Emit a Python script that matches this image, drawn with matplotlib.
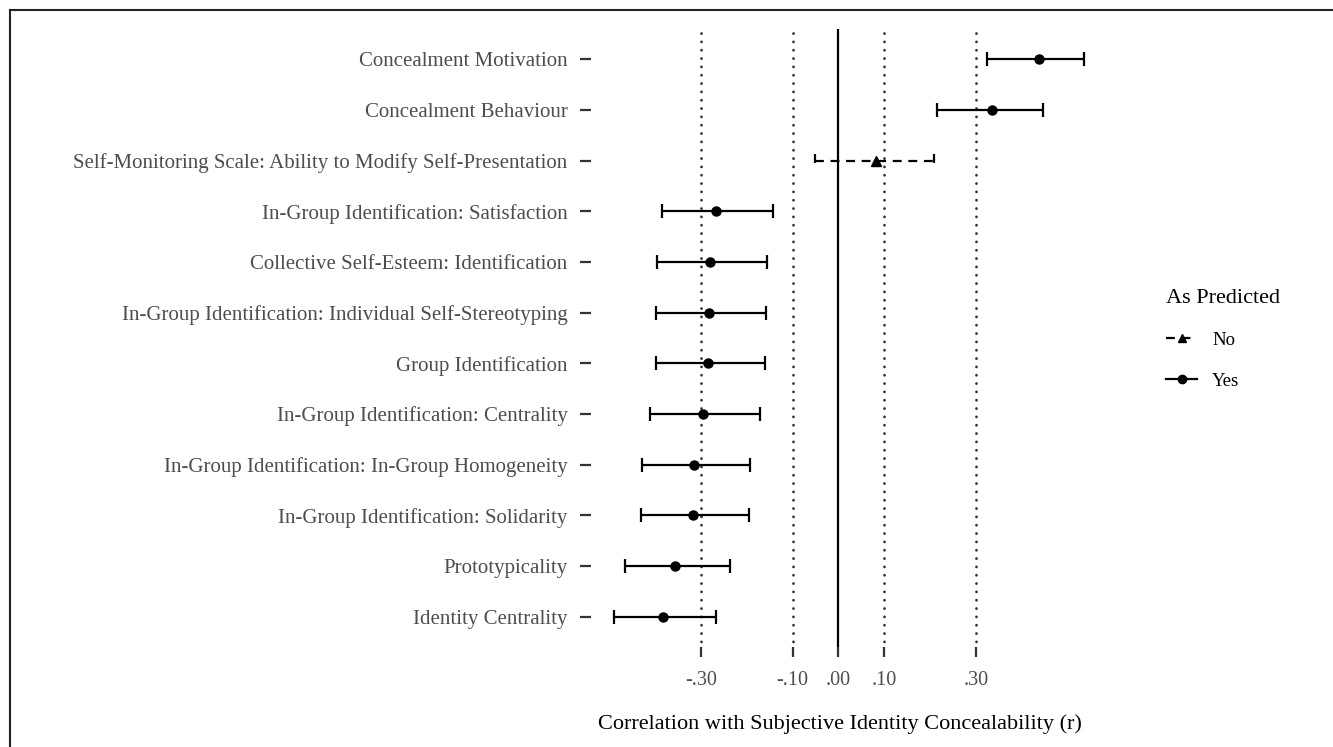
import matplotlib.pyplot as plt
from matplotlib.lines import Line2D

plt.rcParams['font.family'] = ['Liberation Serif', 'DejaVu Serif']

# Measures, top to bottom
measures = [
    "Concealment Motivation",
    "Concealment Behaviour",
    "Self-Monitoring Scale: Ability to Modify Self-Presentation",
    "In-Group Identification: Satisfaction",
    "Collective Self-Esteem: Identification",
    "In-Group Identification: Individual Self-Stereotyping",
    "Group Identification",
    "In-Group Identification: Centrality",
    "In-Group Identification: In-Group Homogeneity",
    "In-Group Identification: Solidarity",
    "Prototypicality",
    "Identity Centrality",
]
r_est = [0.437, 0.336, 0.081, -0.267, -0.280, -0.282, -0.284, -0.296, -0.315, -0.317, -0.356, -0.382]
ci_low = [0.325, 0.216, -0.051, -0.384, -0.395, -0.398, -0.399, -0.411, -0.428, -0.430, -0.466, -0.489]
ci_high = [0.536, 0.447, 0.209, -0.142, -0.155, -0.158, -0.160, -0.172, -0.192, -0.195, -0.237, -0.267]
as_predicted = ["Yes", "Yes", "No", "Yes", "Yes", "Yes", "Yes", "Yes", "Yes", "Yes", "Yes", "Yes"]

ref_lines = [-0.30, -0.10, 0.10, 0.30]
tick_vals = [-0.30, -0.10, 0.00, 0.10, 0.30]
tick_labels = ["-.30", "-.10", ".00", ".10", ".30"]

W, H = 1333, 747
fig = plt.figure(figsize=(W / 100, H / 100), dpi=100)
ax = fig.add_axes([591 / W, 1 - 647 / H, (1089 - 591) / W, (647 - 29) / H])

dash = (0, (4, 3))
# reference lines: dotted at +-.10 / +-.30, solid at zero
for x in ref_lines:
    ax.plot([x, x], [-0.52, len(measures) - 0.48], color="#333333", lw=2.0,
            ls=(0, (0.05, 2.95)), dash_capstyle="round", zorder=1)
ax.axvline(0, color="black", lw=1.6, zorder=1)

cap = 0.14
for i, m in enumerate(measures):
    ls = dash if as_predicted[i] == "No" else "-"
    ax.hlines(i, ci_low[i], ci_high[i], color="black", lw=1.6, linestyles=[ls], zorder=2)
    ax.vlines([ci_low[i], ci_high[i]], i - cap, i + cap, color="black", lw=1.6,
              linestyles=[ls], zorder=2)
    mk = "^" if as_predicted[i] == "No" else "o"
    ax.plot(r_est[i], i, marker=mk, color="black", ms=6.5, zorder=3)

ax.set_xlim(-0.540, 0.547)
ax.set_ylim(len(measures) - 0.4, -0.6)
ax.set_yticks(range(len(measures)))
ax.set_yticklabels(measures, fontsize=15, color="#4D4D4D")
ax.set_xticks(tick_vals)
ax.set_xticklabels(tick_labels, fontsize=14.5, color="#4D4D4D")
ax.tick_params(axis="y", length=8, width=1.6, color="#333333", pad=9)
ax.tick_params(axis="x", length=7.5, width=1.6, color="#333333", pad=10)
for s in ax.spines.values():
    s.set_visible(False)
ax.set_xlabel("Correlation with Subjective Identity Concealability (r)", fontsize=16, labelpad=17)

handles = [
    Line2D([], [], color="black", lw=1.6, ls=dash, marker="^", ms=6),
    Line2D([], [], color="black", lw=1.6, ls="-", marker="o", ms=6),
]
leg = fig.legend(handles, ["No", "Yes"], title="As Predicted", loc="upper left",
                 bbox_to_anchor=(1157 / W, 1 - 280 / H), frameon=False, fontsize=13.5,
                 title_fontsize=16, alignment="left", borderpad=0, handlelength=1.65,
                 handletextpad=0.8, labelspacing=1.25)

# page border (top and left edges)
fig.add_artist(Line2D([9.5 / W, 9.5 / W], [0, 1 - 9.5 / H], color="#222222", lw=1.5))
fig.add_artist(Line2D([9.5 / W, 1], [1 - 9.5 / H, 1 - 9.5 / H], color="#222222", lw=1.5))

fig.savefig("out.png", dpi=100)
